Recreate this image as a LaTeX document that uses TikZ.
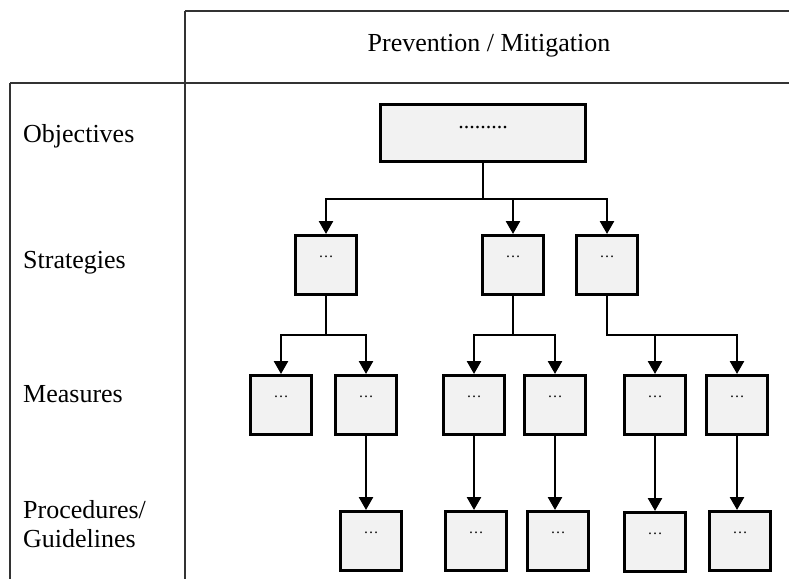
\documentclass[tikz,border=0pt]{standalone}
\usepackage{fontspec}
\setmainfont{Liberation Serif}
\usepackage{tikz}
\usetikzlibrary{arrows.meta}
\definecolor{boxfill}{RGB}{242,242,242}
\tikzset{
    boxs/.style = {rectangle, line width=3pt, draw=black, fill=boxfill, inner sep=0pt, minimum width=61pt, text height=22pt, text depth=37pt, font=\fontsize{15}{17}\selectfont, text=black},
    boxo/.style = {boxs, minimum width=205pt, text height=24pt, text depth=33pt, font=\fontsize{22}{24}\selectfont},
    rowlbl/.style = {anchor=base west, inner sep=0pt, align=left, font=\fontsize{26}{29}\selectfont},
    edgea/.style = {-{Triangle[width=14pt,length=13pt]}, line width=2.6pt, black},
    gridl/.style = {-, line width=1.4pt, black!80}
}

\begin{document}
\begin{tikzpicture}[x=1pt, y=-1pt, font=\fontsize{26}{29}\selectfont]
  \useasboundingbox (0,0) rectangle (789,579);
  % table
  \draw[gridl] (185,11) -- (789,11);
  \draw[gridl] (10,83) -- (789,83);
  \draw[gridl] (10,83) -- (10,579);
  \draw[gridl] (185,11) -- (185,579);
  \node[anchor=base, inner sep=0pt] (head) at (489,51) {Prevention / Mitigation};
  \node[rowlbl] (lobj) at (23,142) {Objectives};
  \node[rowlbl] (lstr) at (23,268) {Strategies};
  \node[rowlbl] (lmea) at (23,402) {Measures};
  \node[rowlbl] (lpro) at (23,547) {Procedures/\\Guidelines};

  % boxes
  \node[boxo, anchor=north] (obj) at (483,103) {.........};
  \node[boxs, anchor=north] (s1) at (326,234) {…};
  \node[boxs, anchor=north] (s2) at (513,234) {…};
  \node[boxs, anchor=north] (s3) at (607,234) {…};
  \node[boxs, anchor=north] (m1) at (281,374) {…};
  \node[boxs, anchor=north] (m2) at (366,374) {…};
  \node[boxs, anchor=north] (m3) at (474,374) {…};
  \node[boxs, anchor=north] (m4) at (555,374) {…};
  \node[boxs, anchor=north] (m5) at (655,374) {…};
  \node[boxs, anchor=north] (m6) at (737,374) {…};
  \node[boxs, anchor=north] (p1) at (371,510) {…};
  \node[boxs, anchor=north] (p2) at (476,510) {…};
  \node[boxs, anchor=north] (p3) at (558,510) {…};
  \node[boxs, anchor=north] (p4) at (655,511) {…};
  \node[boxs, anchor=north] (p5) at (740,510) {…};

  % connectors
  \draw[edgea] (obj.south) -- ++(0,36) -| (s1.north);
  \draw[edgea] (obj.south) -- ++(0,36) -| (s2.north);
  \draw[edgea] (obj.south) -- ++(0,36) -| (s3.north);
  \draw[edgea] (s1.south) -- ++(0,39) -| (m1.north);
  \draw[edgea] (s1.south) -- ++(0,39) -| (m2.north);
  \draw[edgea] (s2.south) -- ++(0,39) -| (m3.north);
  \draw[edgea] (s2.south) -- ++(0,39) -| (m4.north);
  \draw[edgea] (s3.south) -- ++(0,39) -| (m5.north);
  \draw[edgea] (s3.south) -- ++(0,39) -| (m6.north);
  \draw[edgea] (m2.south) -- (m2.south |- p1.north);
  \draw[edgea] (m3.south) -- (m3.south |- p2.north);
  \draw[edgea] (m4.south) -- (m4.south |- p3.north);
  \draw[edgea] (m5.south) -- (m5.south |- p4.north);
  \draw[edgea] (m6.south) -- (m6.south |- p5.north);
\end{tikzpicture}
\end{document}
